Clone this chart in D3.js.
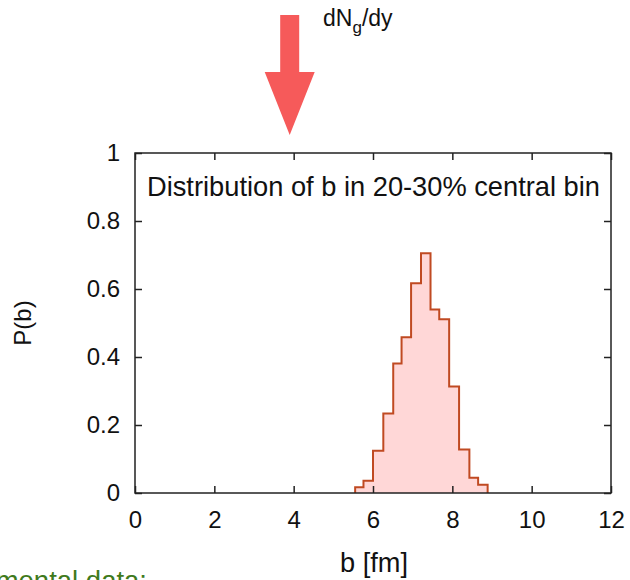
<!DOCTYPE html>
<html>
<head>
<meta charset="utf-8">
<script src="https://cdn.jsdelivr.net/npm/d3@7"></script>
<style>
  html, body { margin: 0; padding: 0; background: #fff; }
  svg { display: block; }
  text { font-family: "Liberation Sans", Arial, Helvetica, sans-serif; fill: #111; }
</style>
</head>
<body>
<svg id="chart" width="630" height="580"></svg>
<script>
// ---- data ----
const binEdges = [5.55, 5.76, 6.0, 6.26, 6.51, 6.72, 6.96, 7.21, 7.45, 7.67, 7.92, 8.17, 8.43, 8.65, 8.89];
const binValues = [0.017, 0.036, 0.124, 0.234, 0.381, 0.458, 0.617, 0.705, 0.540, 0.511, 0.313, 0.128, 0.045, 0.024];
const xTicks = [0, 2, 4, 6, 8, 10, 12];
const yTicks = [0, 0.2, 0.4, 0.6, 0.8, 1];
const arrowAt = [3.9];
const titleText = "Distribution of b in 20-30% central bin";
const xLabel = "b [fm]";
const yLabel = "P(b)";
const footText = "Experimental data:";

// ---- layout ----
const L = 135, R = 611, T = 153, B = 493;
const svg = d3.select("#chart");
const x = d3.scaleLinear().domain([0, 12]).range([L, R]);
const y = d3.scaleLinear().domain([0, 1]).range([B, T]);

// histogram points
const pts = [[binEdges[0], 0]];
binValues.forEach((v, i) => { pts.push([binEdges[i], v]); pts.push([binEdges[i + 1], v]); });
pts.push([binEdges[binEdges.length - 1], 0]);

svg.append("path")
  .datum(pts)
  .attr("d", d3.area().x(d => x(d[0])).y0(y(0)).y1(d => y(d[1])))
  .attr("fill", "#ffd7d7");
svg.append("path")
  .datum(pts)
  .attr("d", d3.line().x(d => x(d[0])).y(d => y(d[1])))
  .attr("fill", "none")
  .attr("stroke", "#c04a22")
  .attr("stroke-width", 2)
  .attr("stroke-linejoin", "miter");

// axes
const fmt = d => d3.format("")(d);
const axB = svg.append("g").attr("transform", `translate(0,${B})`)
  .call(d3.axisBottom(x).tickValues(xTicks).tickSizeInner(-7).tickSizeOuter(0).tickPadding(18).tickFormat(fmt));
const axL = svg.append("g").attr("transform", `translate(${L},0)`)
  .call(d3.axisLeft(y).tickValues(yTicks).tickSizeInner(-7).tickSizeOuter(0).tickPadding(15).tickFormat(fmt));
const axT = svg.append("g").attr("transform", `translate(0,${T})`)
  .call(d3.axisTop(x).tickValues(xTicks).tickSizeInner(-7).tickSizeOuter(0).tickFormat(""));
const axR = svg.append("g").attr("transform", `translate(${R},0)`)
  .call(d3.axisRight(y).tickValues(yTicks).tickSizeInner(-7).tickSizeOuter(0).tickFormat(""));
[axB, axL, axT, axR].forEach(g => {
  g.select(".domain").remove();
  g.selectAll(".tick line").attr("stroke", "#222").attr("stroke-width", 1.5);
  g.selectAll(".tick text").attr("font-size", 24).attr("fill", "#111")
    .style("font-family", '"Liberation Sans", Arial, sans-serif');
});
svg.append("rect").attr("x", L).attr("y", T).attr("width", R - L).attr("height", B - T)
  .attr("fill", "none").attr("stroke", "#222").attr("stroke-width", 1.5);

// title inside plot
svg.append("text").attr("x", 147).attr("y", 196).attr("font-size", 28)
  .attr("textLength", 453).attr("lengthAdjust", "spacingAndGlyphs")
  .text(titleText);

// axis labels
svg.append("text").attr("x", (L + R) / 2 + 1).attr("y", 572).attr("text-anchor", "middle")
  .attr("font-size", 27).attr("textLength", 68).attr("lengthAdjust", "spacingAndGlyphs").text(xLabel);
svg.append("text").attr("transform", `translate(31,${(T + B) / 2}) rotate(-90)`)
  .attr("text-anchor", "middle").attr("font-size", 24).text(yLabel);

// footer green text (cut off at the window edge, as in the reference)
svg.append("text").attr("x", 147).attr("y", 590).attr("text-anchor", "end")
  .attr("font-size", 27.5).style("fill", "#3f7a1c").text(footText);

// arrow
arrowAt.forEach(b => {
  const cx = x(b);
  const p = d3.path();
  p.moveTo(cx - 9.5, 15); p.lineTo(cx + 9.5, 15); p.lineTo(cx + 9.5, 72);
  p.lineTo(cx + 25, 72); p.lineTo(cx, 135); p.lineTo(cx - 25, 72);
  p.lineTo(cx - 9.5, 72); p.closePath();
  svg.append("path").attr("d", p.toString()).attr("fill", "#f65a5a");
});
const lab = svg.append("text").attr("x", 323).attr("y", 26).attr("font-size", 23);
lab.append("tspan").text("dN");
lab.append("tspan").attr("font-size", 17).attr("dy", 7).text("g");
lab.append("tspan").attr("dy", -7).text("/dy");
</script>
</body>
</html>
